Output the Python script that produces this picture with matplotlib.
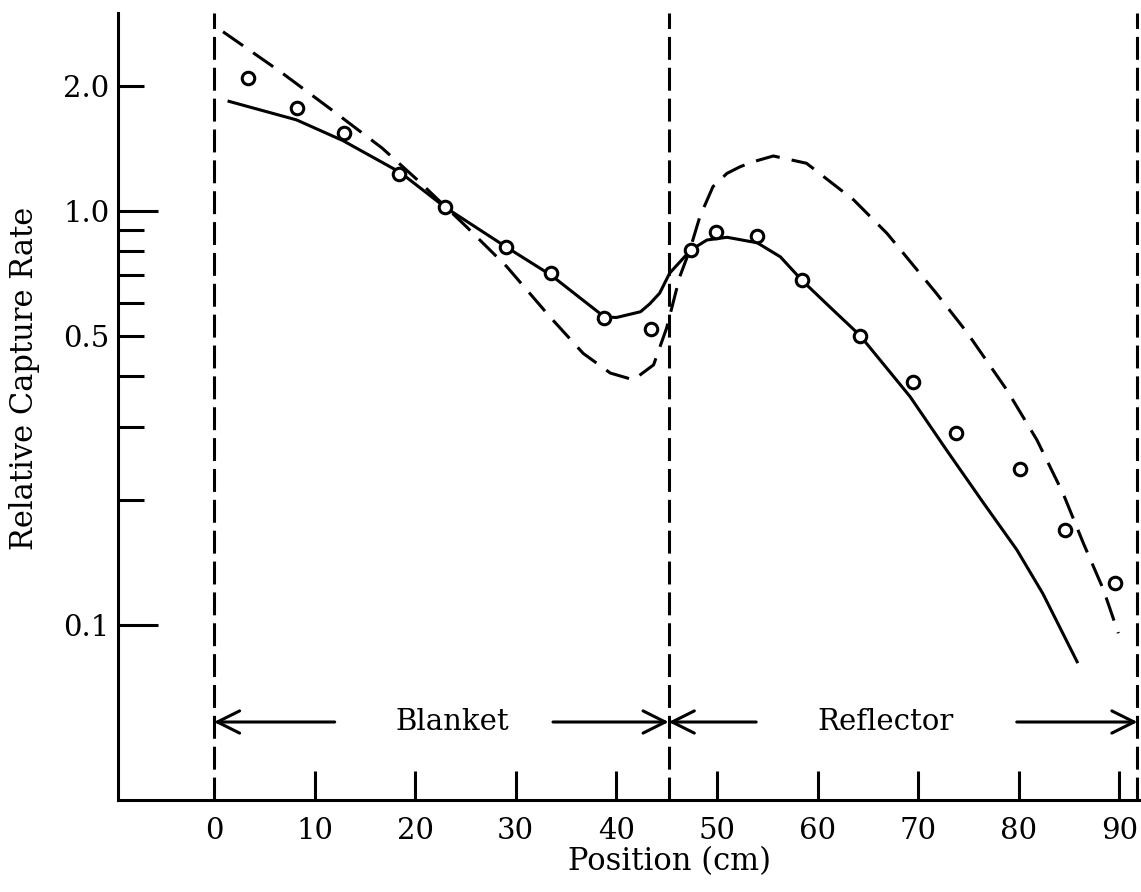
import numpy as np
import matplotlib
matplotlib.use("Agg")
import matplotlib.pyplot as plt

plt.rcParams['font.family'] = ['DejaVu Serif']

# measured capture rates (circles)
pts_x = [3.4, 8.3, 12.9, 18.4, 23.0, 29.0, 33.5, 38.8, 43.4, 47.4, 49.9, 54.0,
         58.5, 64.2, 69.5, 73.8, 80.1, 84.6, 89.6]
pts_y = [2.10, 1.77, 1.54, 1.23, 1.02, 0.82, 0.71, 0.55, 0.52, 0.805, 0.89, 0.87,
         0.68, 0.50, 0.386, 0.291, 0.238, 0.170, 0.126]

# solid curve
solid_x = [1.5, 8.2, 12.8, 18.5, 23.0, 29.0, 33.5, 38.8, 40.0, 42.4, 43.3, 44.3, 45.3,
           47.4, 49.0, 51.0, 54.0, 56.3, 58.5, 61.2, 64.2, 69.2, 72.8, 76.5, 79.8,
           82.4, 85.8]
solid_y = [1.84, 1.66, 1.48, 1.24, 1.02, 0.82, 0.70, 0.555, 0.553, 0.571, 0.596, 0.633,
           0.708, 0.805, 0.851, 0.864, 0.838, 0.775, 0.678, 0.587, 0.501, 0.356, 0.265,
           0.197, 0.152, 0.119, 0.0815]

# dashed curve
dashed_x = [0.9, 6.6, 11.5, 16.7, 20.2, 25.1, 29.1, 33.4, 36.7, 39.4, 41.7, 43.7,
            45.0, 46.3, 47.3, 48.3, 49.6, 51.0, 52.3, 53.6, 55.6, 58.9, 63.6, 66.9,
            71.8, 74.8, 78.8, 81.8, 84.4, 86.4, 88.4, 89.9]
dashed_y = [2.71, 2.17, 1.77, 1.42, 1.19, 0.916, 0.734, 0.555, 0.453, 0.406, 0.391,
            0.425, 0.522, 0.694, 0.805, 0.969, 1.145, 1.233, 1.279, 1.315, 1.358,
            1.304, 1.063, 0.883, 0.633, 0.511, 0.370, 0.280, 0.208, 0.158, 0.122,
            0.0955]

# region boundaries and names
bounds = [0, 45.2, 91.8]
regions = ['Blanket', 'Reflector']
region_text_x = [23.7, 66.8]
arrow_tails = [(12.0, 33.7), (53.9, 79.8)]
arrow_y = 0.0583

xticks = [0, 10, 20, 30, 40, 50, 60, 70, 80, 90]
yticks = [0.1, 0.2, 0.3, 0.4, 0.5, 0.6, 0.7, 0.8, 0.9, 1.0, 2.0]
ylabels = ['0.1', '', '', '', '0.5', '', '', '', '', '1.0', '2.0']
long_ticks = [0.1, 1.0]

fs = 21

fig = plt.figure(figsize=(11.41, 8.92), dpi=100)
ax = fig.add_axes([118 / 1141, 92 / 892, 1023 / 1141, 787 / 892])
ax.set_yscale('log')
ax.set_xlim(-9.54, 92.15)
ax.set_ylim(0.03778, 3.008)

lw = 2.2
ax.plot(solid_x, solid_y, color='black', lw=lw, solid_joinstyle='round')
ax.plot(dashed_x, dashed_y, color='black', lw=lw, ls=(0, (8, 4)))
ax.plot(pts_x, pts_y, 'o', ms=9, mfc='white', mec='black', mew=2.2, ls='none')

for b in bounds:
    ax.axvline(b, color='black', lw=lw, ls=(0, (7.5, 2.6)))

for i, name in enumerate(regions):
    ax.text(region_text_x[i], arrow_y, name, ha='center', va='center', fontsize=fs)
    left, right = bounds[i], bounds[i + 1]
    t1, t2 = arrow_tails[i]
    ax.annotate('', xy=(left, arrow_y), xytext=(t1, arrow_y),
                arrowprops=dict(arrowstyle='->', lw=2.2, mutation_scale=40,
                                shrinkA=0, shrinkB=0, color='black'))
    ax.annotate('', xy=(right, arrow_y), xytext=(t2, arrow_y),
                arrowprops=dict(arrowstyle='->', lw=2.2, mutation_scale=40,
                                shrinkA=0, shrinkB=0, color='black'))

for s in ['top', 'right']:
    ax.spines[s].set_visible(False)
for s in ['left', 'bottom']:
    ax.spines[s].set_linewidth(2.2)

ax.set_xticks(xticks)
ax.set_xticklabels([str(v) for v in xticks])
ax.tick_params(axis='x', direction='in', length=21, width=2.2, pad=12, labelsize=fs)
ax.xaxis.get_major_ticks()[0].tick1line.set_visible(False)

ax.set_yticks(yticks)
ax.set_yticklabels(ylabels)
ax.yaxis.set_minor_locator(matplotlib.ticker.NullLocator())
ax.tick_params(axis='y', direction='in', length=19, width=2.2, pad=6, labelsize=fs)
for t, v in zip(ax.yaxis.get_major_ticks(), yticks):
    if v in long_ticks:
        t.tick1line.set_markersize(29)

ax.set_xlabel('Position (cm)', fontsize=fs + 1)
ax.xaxis.set_label_coords((669 - 118) / 1023, -(862 - 800) / 787)
ax.xaxis.label.set_va('center')
ax.set_ylabel('Relative Capture Rate', fontsize=fs + 1)
ax.yaxis.set_label_coords((25 - 118) / 1023, (800 - 378) / 787)
ax.yaxis.label.set_va('center')

fig.savefig('out.png', dpi=100)
